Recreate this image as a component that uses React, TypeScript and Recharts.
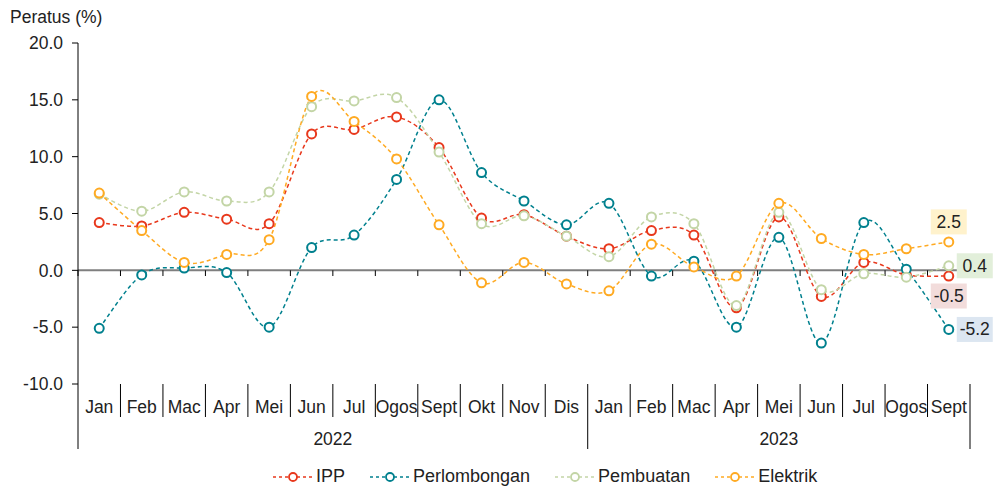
import React from "react";
import { LineChart, Line, XAxis, YAxis, ReferenceLine } from "recharts";

const months = ["Jan", "Feb", "Mac", "Apr", "Mei", "Jun", "Jul", "Ogos", "Sept", "Okt", "Nov", "Dis",
  "Jan", "Feb", "Mac", "Apr", "Mei", "Jun", "Jul", "Ogos", "Sept"];
const years = [
  { label: "2022", start: 0, end: 11 },
  { label: "2023", start: 12, end: 20 },
];

const ipp = [4.2, 3.9, 5.1, 4.5, 4.1, 12.0, 12.4, 13.5, 10.8, 4.6, 4.9, 3.0, 1.9, 3.5, 3.1, -3.3, 4.7, -2.3, 0.7, -0.4, -0.5];
const perlombongan = [-5.1, -0.4, 0.2, -0.2, -5.0, 2.0, 3.1, 8.0, 15.0, 8.6, 6.1, 4.0, 5.9, -0.5, 0.8, -5.0, 2.9, -6.4, 4.2, 0.1, -5.2];
const pembuatan = [6.7, 5.2, 6.9, 6.1, 6.9, 14.4, 14.9, 15.2, 10.4, 4.1, 4.8, 3.0, 1.2, 4.7, 4.1, -3.1, 5.1, -1.7, -0.3, -0.6, 0.4];
const elektrik = [6.8, 3.5, 0.7, 1.4, 2.7, 15.3, 13.1, 9.8, 4.0, -1.1, 0.7, -1.2, -1.8, 2.3, 0.3, -0.5, 5.9, 2.8, 1.4, 1.9, 2.5];

const yTicks = [-10, -5, 0, 5, 10, 15, 20];

const series = [
  { key: "ipp", name: "IPP", color: "#e8381c", labelBg: "#f2dcdb", pos: "bottom" },
  { key: "perlombongan", name: "Perlombongan", color: "#00808e", labelBg: "#dce6f1", pos: "right" },
  { key: "pembuatan", name: "Pembuatan", color: "#c3d5a6", labelBg: "#e2efda", pos: "right" },
  { key: "elektrik", name: "Elektrik", color: "#ffaa22", labelBg: "#fff2cc", pos: "top" },
];

const data = months.map((m, i) => ({
  i,
  month: m,
  ipp: ipp[i],
  perlombongan: perlombongan[i],
  pembuatan: pembuatan[i],
  elektrik: elektrik[i],
}));

const last = months.length - 1;
// boundaries between months plus the month centres
const xTicks: number[] = [];
for (let k = -0.5; k <= last + 0.5; k += 0.5) xTicks.push(k);
const boundaries = xTicks.filter((v) => !Number.isInteger(v));
const yearEdges = [years[0].start - 0.5, ...years.map((y) => y.end + 0.5)];

const FONT = "'Liberation Sans', Arial, sans-serif";

// excel-ish smoothed line (catmull-rom through every point)
const smoothCurve = (context: any) => {
  let pts: number[][] = [];
  return {
    areaStart() {},
    areaEnd() {},
    lineStart() {
      pts = [];
    },
    point(x: number, y: number) {
      pts.push([+x, +y]);
    },
    lineEnd() {
      const n = pts.length;
      if (!n) return;
      context.moveTo(pts[0][0], pts[0][1]);
      for (let i = 0; i < n - 1; i++) {
        const p0 = pts[Math.max(i - 1, 0)];
        const p1 = pts[i];
        const p2 = pts[i + 1];
        const p3 = pts[Math.min(i + 2, n - 1)];
        context.bezierCurveTo(
          p1[0] + (p2[0] - p0[0]) / 6,
          p1[1] + (p2[1] - p0[1]) / 6,
          p2[0] - (p3[0] - p1[0]) / 6,
          p2[1] - (p3[1] - p1[1]) / 6,
          p2[0],
          p2[1]
        );
      }
    },
  };
};

const MonthTick = (props: any) => {
  const { x, y, payload } = props;
  const v = payload.value;
  const out: React.ReactNode[] = [];
  if (Number.isInteger(v)) {
    out.push(
      <text key="m" x={x} y={y + 29} textAnchor="middle" fontSize={17.5} fill="#222">
        {months[v]}
      </text>
    );
  } else {
    const isYear = yearEdges.includes(v);
    out.push(<line key="s" x1={x} x2={x} y1={y} y2={y + (isYear ? 65 : 33)} stroke="#000" strokeWidth={1} />);
  }
  years.forEach((yr) => {
    if ((yr.start + yr.end) / 2 === v) {
      out.push(
        <text key={"y" + yr.label} x={x} y={y + 61} textAnchor="middle" fontSize={17.5} fill="#222">
          {yr.label}
        </text>
      );
    }
  });
  return <g>{out}</g>;
};

const makeEndLabel = (s: any) => (props: any) => {
  const { x, y, index, value } = props;
  if (index !== last) return null;
  const w = 36;
  const h = 25;
  let cx = x;
  let cy = y;
  if (s.pos === "top") cy = y - 20;
  if (s.pos === "bottom") cy = y + 20;
  if (s.pos === "right") cx = x + 26;
  return (
    <g>
      <rect x={cx - w / 2} y={cy - h / 2} width={w} height={h} fill={s.labelBg} />
      <text x={cx} y={cy + 6} textAnchor="middle" fontSize={17.5} fill="#222">
        {Number(value).toFixed(1)}
      </text>
    </g>
  );
};

const LegendIcon = ({ color }: { color: string }) => (
  <svg width={42} height={16} style={{ display: "block" }}>
    <line x1={1} x2={41} y1={8} y2={8} stroke={color} strokeWidth={1.5} strokeDasharray="3 3" />
    <circle cx={21} cy={8} r={4} fill="#fff" stroke={color} strokeWidth={1.8} />
  </svg>
);

export default function App() {
  return (
    <div style={{ position: "absolute", left: 0, top: 0, width: 995, height: 487, fontFamily: FONT, background: "#fff" }}>
      <div style={{ position: "absolute", left: 10, top: 7, fontSize: 17.5, color: "#222" }}>Peratus (%)</div>
      <LineChart
        width={995}
        height={487}
        data={data}
        margin={{ top: 43, right: 25, left: 0, bottom: 0 }}
        style={{ fontFamily: FONT }}
      >
        <XAxis
          dataKey="i"
          type="number"
          domain={[-0.5, last + 0.5]}
          ticks={xTicks}
          interval={0}
          tick={<MonthTick />}
          tickLine={false}
          axisLine={false}
          tickSize={0}
          tickMargin={0}
          height={103}
        />
        <YAxis
          domain={[-10, 20]}
          ticks={yTicks}
          tickFormatter={(v: number) => v.toFixed(1)}
          width={78}
          tickSize={6}
          tickMargin={9}
          tick={{ fontSize: 17.5, fill: "#222" }}
          axisLine={{ stroke: "#000" }}
          tickLine={{ stroke: "#000" }}
        />
        <ReferenceLine y={0} stroke="#7f7f7f" strokeWidth={2} />
        {boundaries.map((b) => (
          <ReferenceLine
            key={b}
            segment={[
              { x: b, y: 0 },
              { x: b, y: -0.5 },
            ]}
            stroke="#000"
            strokeWidth={1}
          />
        ))}
        {series.map((s) => (
          <Line
            key={s.key}
            dataKey={s.key}
            name={s.name}
            type={smoothCurve as any}
            stroke={s.color}
            strokeWidth={1.5}
            strokeDasharray="4 3"
            dot={{ r: 4.5, strokeWidth: 2, fill: "#fff", stroke: s.color, strokeDasharray: "" }}
            activeDot={false}
            label={makeEndLabel(s)}
            isAnimationActive={false}
          />
        ))}
      </LineChart>
      <div
        style={{
          position: "absolute",
          left: 272,
          top: 466,
          display: "flex",
          alignItems: "center",
          fontSize: 18,
          color: "#222",
        }}
      >
        {series.map((s) => (
          <div key={s.key} style={{ display: "flex", alignItems: "center", marginRight: 24 }}>
            <LegendIcon color={s.color} />
            <span style={{ marginLeft: 2 }}>{s.name}</span>
          </div>
        ))}
      </div>
    </div>
  );
}
